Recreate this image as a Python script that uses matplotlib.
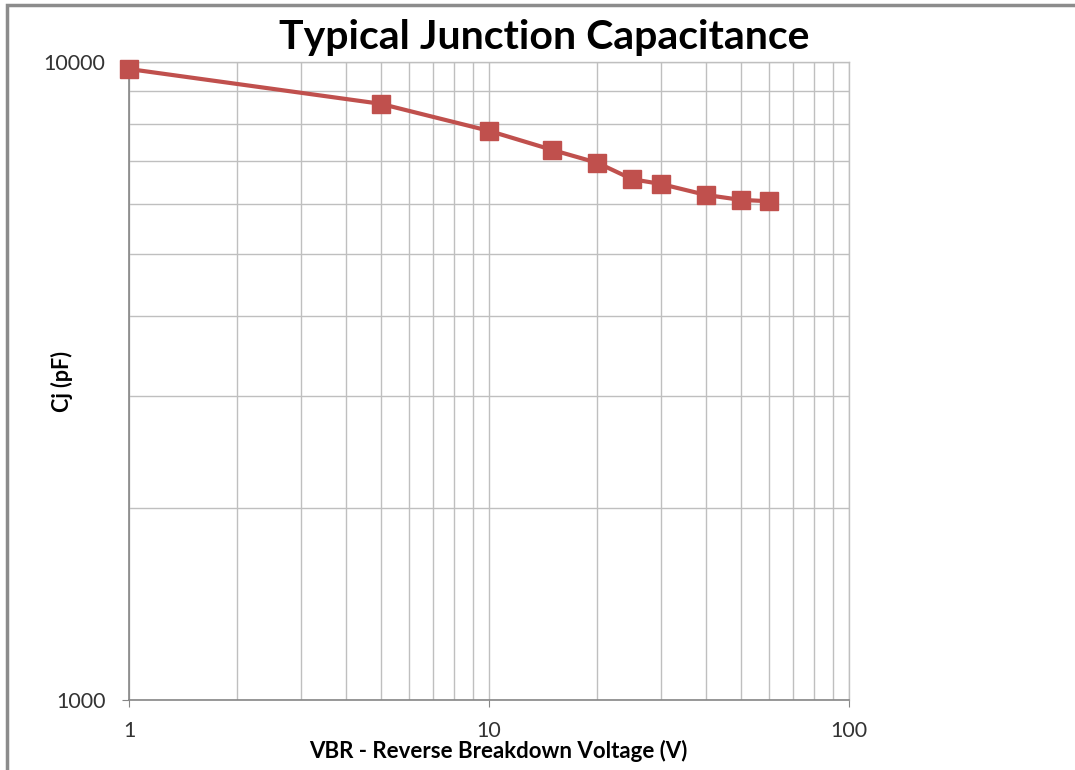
import matplotlib
matplotlib.use("Agg")
import matplotlib.pyplot as plt
from matplotlib.ticker import LogLocator, FixedLocator, NullFormatter
from matplotlib.patches import Rectangle

voltage = [1, 5, 10, 15, 20, 25, 30, 40, 50, 60]
capacitance = [9750, 8600, 7800, 7280, 6950, 6550, 6440, 6190, 6080, 6050]
x_ticks = [1, 10, 100]
x_tick_labels = ["1", "10", "100"]
y_ticks = [1000, 10000]
y_tick_labels = ["1000", "10000"]

plt.rcParams['font.family'] = ['Lato', 'DejaVu Sans']

W, H = 1075, 770
fig = plt.figure(figsize=(W/100, H/100), dpi=100)
ax = fig.add_axes([129/W, (H-700)/H, (849-129)/W, (700-62)/H])

grid_c = '#BFBFBF'
spine_c = '#868686'
red = '#C0504D'

ax.plot(voltage, capacitance, color=red, lw=3, marker='s', markersize=12.5,
        markerfacecolor=red, markeredgecolor=red, zorder=5, clip_on=False)
ax.set_xscale('log')
ax.set_yscale('log')
ax.set_xlim(1, 100)
ax.set_ylim(1000, 10000)

ax.xaxis.set_major_locator(FixedLocator(x_ticks))
ax.set_xticklabels(x_tick_labels)
ax.yaxis.set_major_locator(FixedLocator(y_ticks))
ax.set_yticklabels(y_tick_labels)
ax.xaxis.set_minor_locator(LogLocator(base=10, subs=range(2, 10)))
ax.yaxis.set_minor_locator(LogLocator(base=10, subs=range(2, 10)))
ax.xaxis.set_minor_formatter(NullFormatter())
ax.yaxis.set_minor_formatter(NullFormatter())

ax.grid(True, which='both', color=grid_c, lw=1)
ax.set_axisbelow(True)
ax.tick_params(which='minor', length=0)
ax.tick_params(which='major', direction='out', length=5, color=spine_c,
               labelsize=15.5, labelcolor='#333333')
ax.tick_params(axis='x', pad=10)
ax.tick_params(axis='y', pad=12)

for s in ['left', 'bottom']:
    ax.spines[s].set_color(spine_c)
    ax.spines[s].set_linewidth(1.2)
for s in ['top', 'right']:
    ax.spines[s].set_color(grid_c)
    ax.spines[s].set_linewidth(1)

fig.text((280+808)/2/W, 1-38/H, "Typical Junction Capacitance", ha='center', va='center',
         fontsize=29.5, fontweight='bold', color='black')
fig.text(62/W, 1-381/H, "Cj (pF)", rotation=90, ha='center', va='center',
         fontsize=15.5, fontweight='bold', color='black')
fig.text(498/W, 1-751/H, "VBR - Reverse Breakdown Voltage (V)", ha='center', va='center',
         fontsize=16, fontweight='bold', color='black')

fig.patches.append(Rectangle((7/W, -0.1), 1.2, 1 - 5/H + 0.1, transform=fig.transFigure,
                             fill=False, edgecolor='#8C8C8C', lw=2.5))

fig.savefig("out.png", dpi=100)
